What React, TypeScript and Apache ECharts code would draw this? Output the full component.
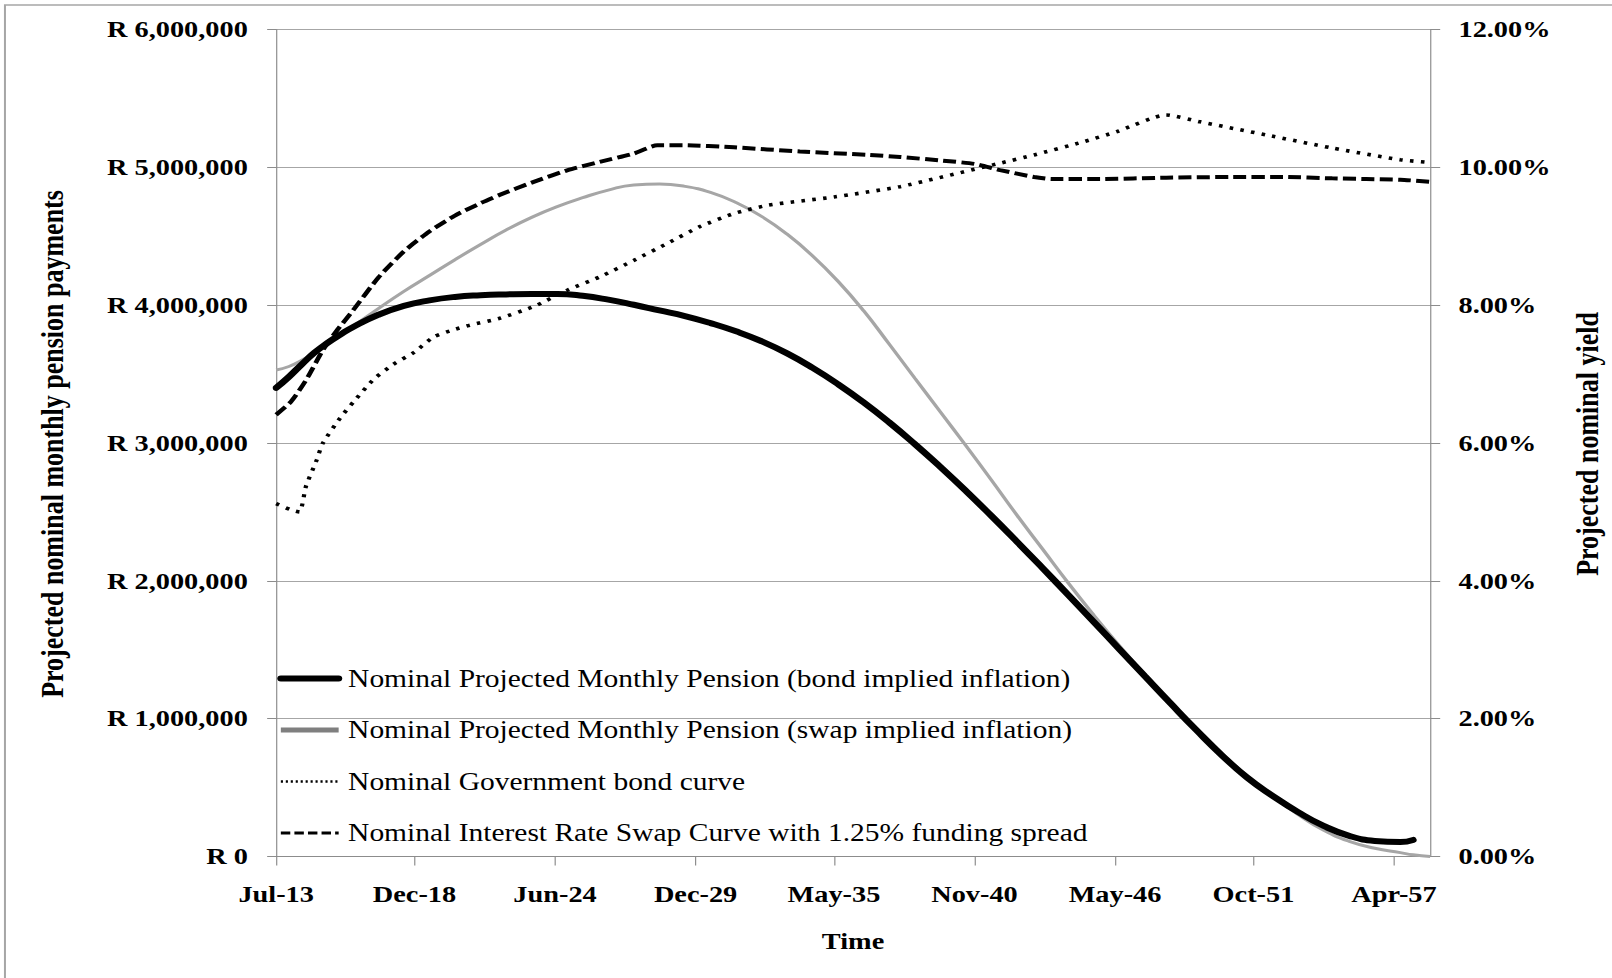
import React, { useEffect, useRef } from 'react';
import * as echarts from 'echarts';

// ---- x axis (months since Jul-2013) ----
const xTickMonths = [0, 65, 131, 197, 262, 328, 394, 459, 525];
const xTickLabels = ['Jul-13', 'Dec-18', 'Jun-24', 'Dec-29', 'May-35', 'Nov-40', 'May-46', 'Oct-51', 'Apr-57'];
const lastMonth = 542;

// ---- pension series (Rand) ----
const pensionMonths = [0, 6, 12, 18, 24, 30, 36, 48, 60, 72, 84, 96, 108, 120, 132, 144, 156, 168, 180, 192, 204, 216, 228, 240, 252, 264, 276, 288, 300, 312, 324, 336, 348, 360, 372, 384, 396, 408, 420, 432, 444, 456, 468, 480, 492, 504, 516, 528, 534, 542];
const bondPension = [3400000, 3480000, 3570000, 3655000, 3725000, 3785000, 3840000, 3930000, 3995000, 4035000, 4060000, 4072000, 4078000, 4081000, 4081000, 4068000, 4040000, 4003000, 3962000, 3921000, 3870000, 3810000, 3738000, 3650000, 3545000, 3426000, 3294000, 3149000, 2992000, 2826000, 2652000, 2470000, 2283000, 2092000, 1898000, 1702000, 1505000, 1308000, 1112000, 920000, 737000, 573000, 440000, 322000, 222000, 150000, 113000, 105000, 120000, null];
const swapPension = [3530000, 3555000, 3600000, 3655000, 3715000, 3780000, 3845000, 3975000, 4100000, 4215000, 4330000, 4440000, 4545000, 4637000, 4715000, 4780000, 4835000, 4872000, 4879000, 4862000, 4818000, 4745000, 4644000, 4515000, 4357000, 4172000, 3958000, 3716000, 3470000, 3225000, 2980000, 2730000, 2475000, 2230000, 1985000, 1752000, 1530000, 1320000, 1120000, 930000, 750000, 585000, 440000, 305000, 190000, 110000, 60000, 28000, 12000, 0];

// ---- yield curves (%) ----
const bondCurveMonths = [0, 7, 11, 14, 19, 22, 30, 37, 46, 55, 65, 74, 83, 91, 105, 121, 137, 152, 168, 184, 199, 215, 231, 262, 293, 340, 356, 379, 395, 418, 434, 465, 496, 528, 542];
const bondCurve = [5.12, 5.03, 5.0, 5.37, 5.75, 6.0, 6.36, 6.62, 6.93, 7.14, 7.32, 7.54, 7.64, 7.71, 7.81, 7.98, 8.22, 8.41, 8.65, 8.9, 9.14, 9.33, 9.45, 9.57, 9.72, 10.06, 10.18, 10.37, 10.52, 10.76, 10.66, 10.47, 10.28, 10.11, 10.07];
const swapCurveMonths = [0, 7, 14, 22, 28, 36, 48, 60, 72, 84, 96, 105, 121, 137, 152, 168, 179, 191, 215, 246, 278, 293, 312, 328, 340, 356, 364, 387, 418, 449, 473, 496, 528, 542];
const swapCurve = [6.41, 6.6, 6.91, 7.35, 7.61, 7.92, 8.4, 8.78, 9.07, 9.3, 9.48, 9.6, 9.79, 9.96, 10.08, 10.2, 10.32, 10.32, 10.29, 10.23, 10.18, 10.15, 10.1, 10.05, 9.96, 9.86, 9.83, 9.83, 9.85, 9.86, 9.86, 9.84, 9.82, 9.79];

const seriesNames = [
  'Nominal Projected Monthly Pension (bond implied inflation)',
  'Nominal Projected Monthly Pension (swap implied inflation)',
  'Nominal Government bond curve',
  'Nominal Interest Rate Swap Curve with 1.25% funding spread',
];

const S = 1.18; // horizontal stretch of the original picture
const W = Math.round(1612 / S);
const H = 978;
const FONT = '"Liberation Serif", "Times New Roman", serif';

const zip = (xs: number[], ys: (number | null)[]) =>
  xs.map((x, i) => [x, ys[i]]).filter((p) => p[1] !== null && p[1] !== undefined);

const hiddenSymbol = { color: 'rgba(0,0,0,0)', borderWidth: 0, opacity: 0 };

export default function App() {
  const ref = useRef<HTMLDivElement>(null);
  useEffect(() => {
    const chart = echarts.init(ref.current!, null, { renderer: 'svg', width: W, height: H });
    const axisColor = '#8c8c8c';
    const labelStyle = { fontFamily: FONT, fontWeight: 'bold' as const, fontSize: 24, color: '#000' };
    chart.setOption({
      animation: false,
      backgroundColor: '#fff',
      grid: { left: 234, right: W - 1212, top: 29.5, bottom: H - 856.5, containLabel: false },
      xAxis: {
        type: 'value',
        min: 0,
        max: lastMonth,
        axisLine: { show: true, onZero: false, lineStyle: { color: axisColor, width: 1 } },
        axisTick: { show: true, customValues: xTickMonths, length: 9, lineStyle: { color: axisColor } },
        axisLabel: {
          ...labelStyle,
          customValues: xTickMonths,
          margin: 26,
          formatter: (v: number) => {
            const i = xTickMonths.indexOf(Math.round(v));
            return i >= 0 ? xTickLabels[i] : '';
          },
        },
        splitLine: { show: false },
      },
      yAxis: [
        {
          type: 'value',
          position: 'left',
          min: 0,
          max: 6000000,
          interval: 1000000,
          axisLine: { show: true, lineStyle: { color: axisColor, width: 1 } },
          axisTick: { show: true, length: 7.6, lineStyle: { color: axisColor } },
          axisLabel: {
            ...labelStyle,
            margin: 24,
            formatter: (v: number) => 'R ' + v.toLocaleString('en-US'),
          },
          splitLine: { show: true, lineStyle: { color: '#a6a6a6', width: 1 } },
        },
        {
          type: 'value',
          position: 'right',
          min: 0,
          max: 12,
          interval: 2,
          axisLine: { show: true, lineStyle: { color: axisColor, width: 1 } },
          axisTick: { show: true, length: 8.5, lineStyle: { color: axisColor } },
          axisLabel: { ...labelStyle, margin: 24, formatter: (v: number) => v.toFixed(2) + '%' },
          splitLine: { show: false },
        },
      ],
      legend: {
        orient: 'vertical',
        left: 235,
        top: 666,
        padding: 0,
        itemGap: 26.5,
        itemWidth: 49,
        itemHeight: 25,
        textStyle: { fontFamily: FONT, fontSize: 25, color: '#000', padding: [0, 0, 0, 3] },
        data: [
          { name: seriesNames[0], itemStyle: hiddenSymbol, lineStyle: { color: '#000', width: 6, type: 'solid' } },
          { name: seriesNames[1], itemStyle: hiddenSymbol, lineStyle: { color: '#7f7f7f', width: 5, type: 'solid' } },
          { name: seriesNames[2], itemStyle: hiddenSymbol, lineStyle: { color: '#000', width: 2.4, type: [1.8, 2.4] } },
          { name: seriesNames[3], itemStyle: hiddenSymbol, lineStyle: { color: '#000', width: 3, type: [8, 3.5] } },
        ],
      },
      series: [
        {
          name: seriesNames[0],
          type: 'line',
          yAxisIndex: 0,
          data: zip(pensionMonths, bondPension),
          smooth: 0.5,
          symbol: 'none',
          lineStyle: { color: '#000', width: 6, cap: 'round' },
          itemStyle: { color: '#000' },
          z: 4,
        },
        {
          name: seriesNames[1],
          type: 'line',
          yAxisIndex: 0,
          data: zip(pensionMonths, swapPension),
          smooth: 0.5,
          symbol: 'none',
          lineStyle: { color: '#a6a6a6', width: 3 },
          itemStyle: { color: '#7f7f7f' },
          z: 3,
        },
        {
          name: seriesNames[2],
          type: 'line',
          yAxisIndex: 1,
          data: zip(bondCurveMonths, bondCurve),
          smooth: 0.2,
          symbol: 'none',
          lineStyle: { color: '#000', width: 3.6, type: [3, 6.2] },
          itemStyle: { color: '#000' },
          z: 5,
        },
        {
          name: seriesNames[3],
          type: 'line',
          yAxisIndex: 1,
          data: zip(swapCurveMonths, swapCurve),
          smooth: 0.2,
          symbol: 'none',
          lineStyle: { color: '#000', width: 4, type: [11, 4.5] },
          itemStyle: { color: '#000' },
          z: 5,
        },
      ],
      graphic: [
        {
          type: 'rect',
          silent: true,
          shape: { x: 4.2, y: 5, width: 3000, height: 3000 },
          style: { fill: 'none', stroke: '#a6a6a6', lineWidth: 1.7 },
        },
        {
          type: 'text',
          x: 44.9,
          y: 444,
          rotation: Math.PI / 2,
          style: {
            text: 'Projected nominal monthly pension payments',
            fontFamily: FONT,
            fontWeight: 'bold',
            fontSize: 26,
            fill: '#000',
            align: 'center',
            verticalAlign: 'middle',
          },
        },
        {
          type: 'text',
          x: 1345.8,
          y: 444,
          rotation: Math.PI / 2,
          style: {
            text: 'Projected nominal yield',
            fontFamily: FONT,
            fontWeight: 'bold',
            fontSize: 26,
            fill: '#000',
            align: 'center',
            verticalAlign: 'middle',
          },
        },
        {
          type: 'text',
          x: 722.9,
          y: 941,
          style: {
            text: 'Time',
            fontFamily: FONT,
            fontWeight: 'bold',
            fontSize: 24,
            fill: '#000',
            align: 'center',
            verticalAlign: 'middle',
          },
        },
      ],
    });
    return () => chart.dispose();
  }, []);
  return (
    <div
      style={{
        position: 'absolute',
        left: 0,
        top: 0,
        width: 1612,
        height: 978,
        overflow: 'hidden',
        background: '#fff',
      }}
    >
      <div
        ref={ref}
        style={{ width: W, height: H, transform: `scaleX(${S})`, transformOrigin: '0 0' }}
      />
    </div>
  );
}
